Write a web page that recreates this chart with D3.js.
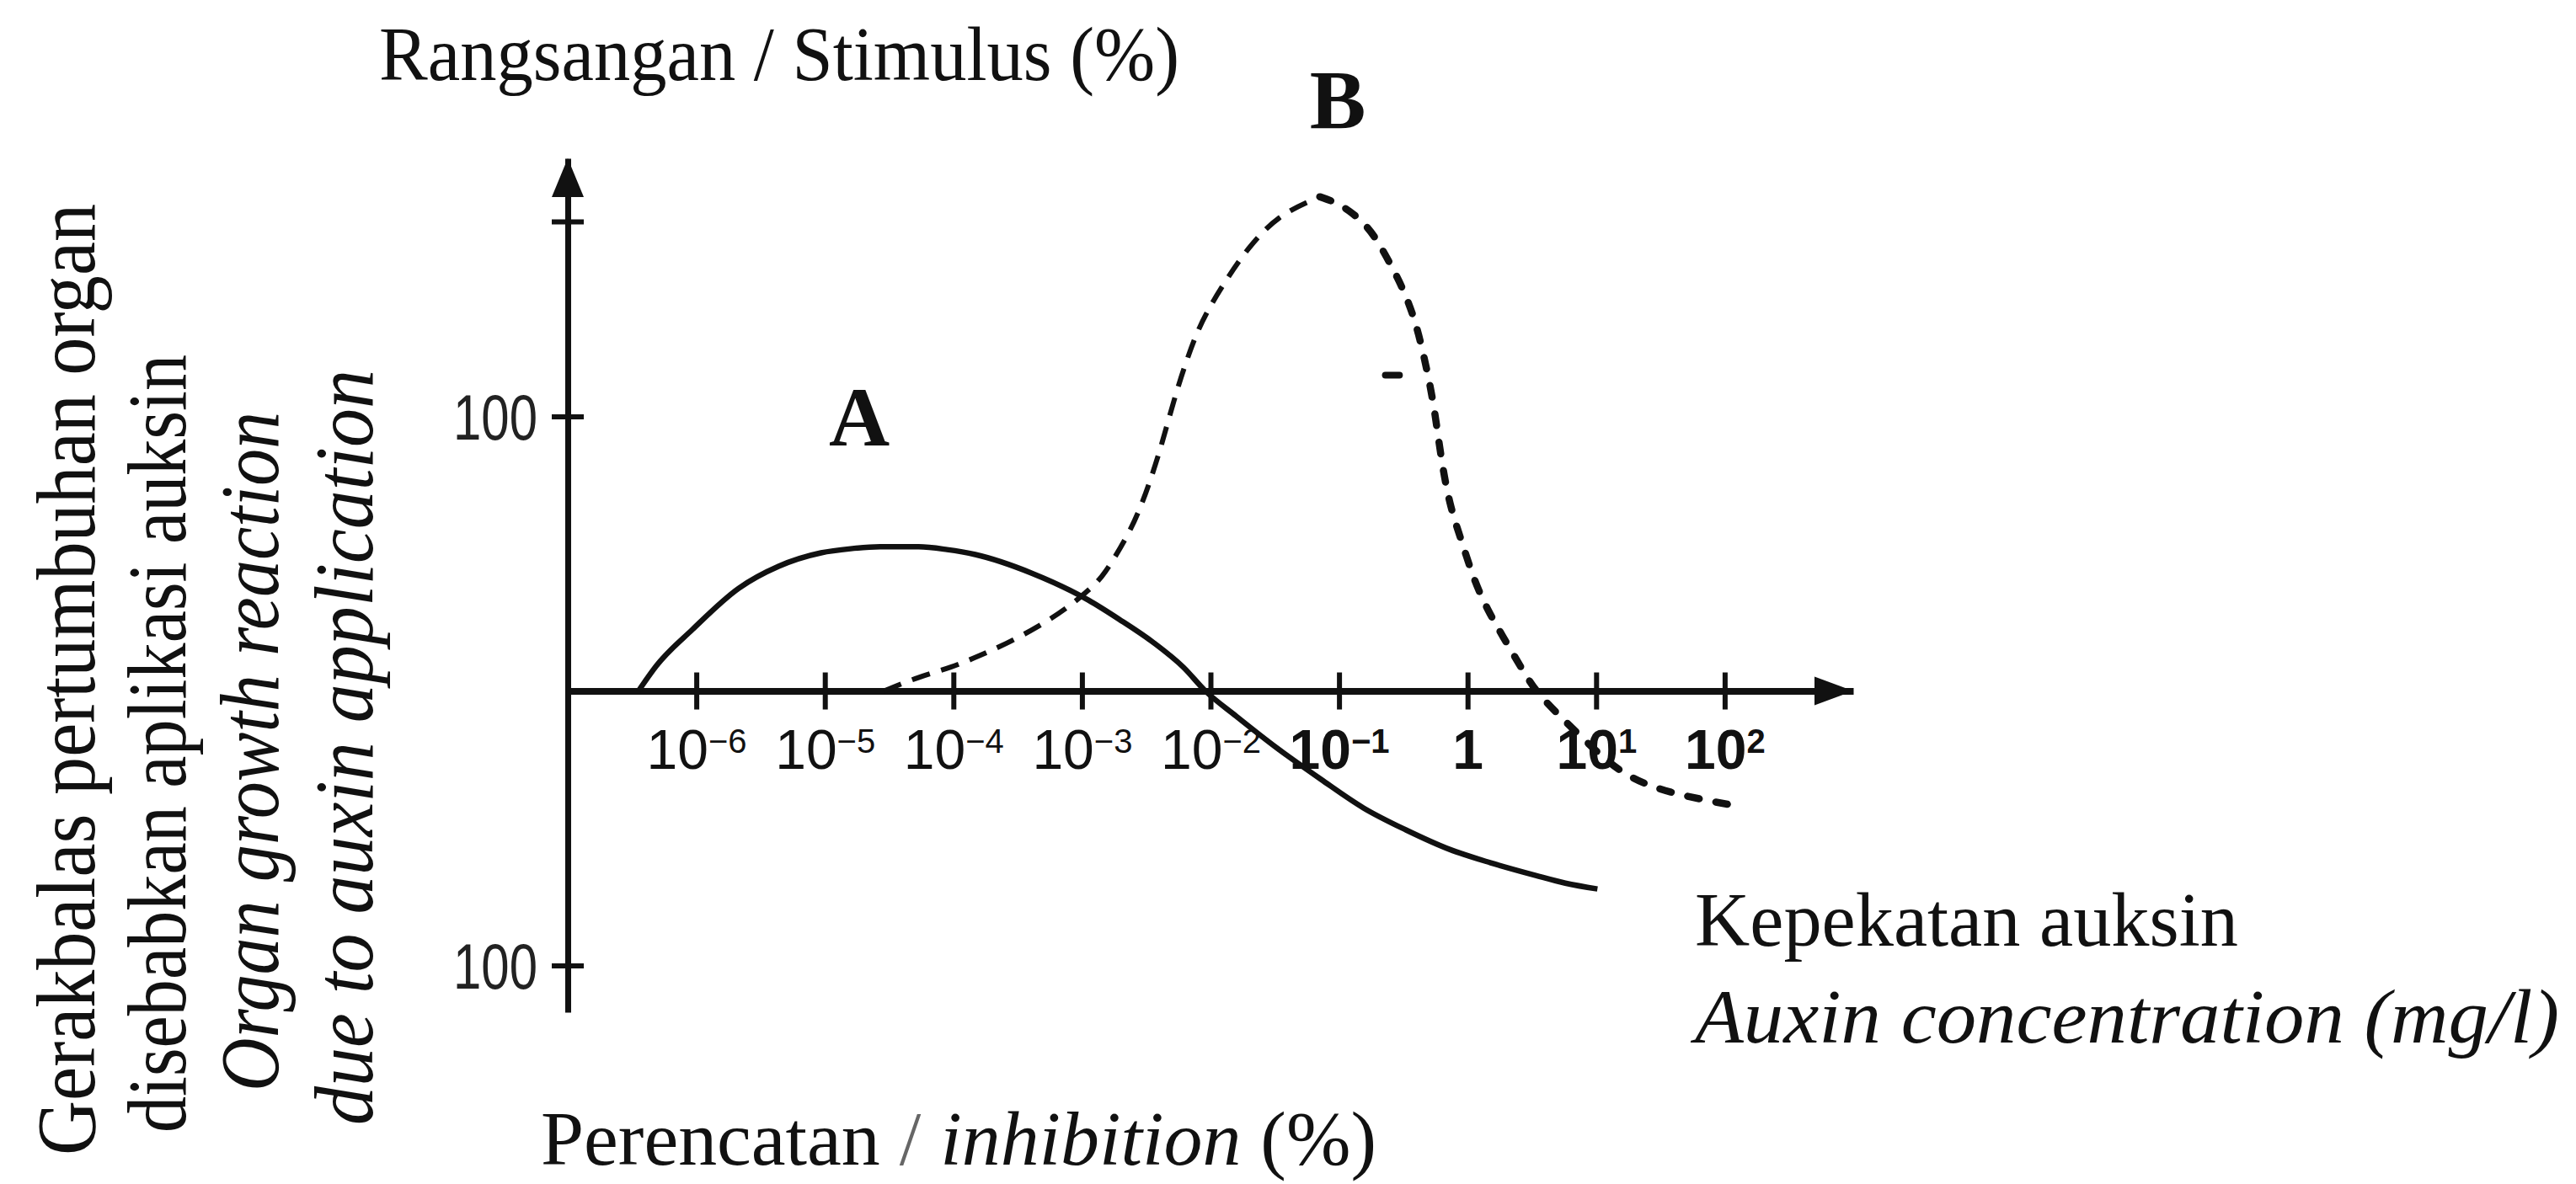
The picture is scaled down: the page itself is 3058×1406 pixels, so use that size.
<!DOCTYPE html>
<meta charset="utf-8">
<style>
body { margin: 0; background: #fff; }
svg { display: block; background: #fff; }
.lbl { font-family: "Liberation Serif", "Times New Roman", serif; fill: #111; }
.curve { fill: none; stroke: #111; }
</style>
<svg width="3058" height="1406"></svg>
<script src="https://d3js.org/d3.v7.min.js"></script>
<script>
// auxin concentration ticks (mg/l) on a log axis
var xTicks = [1e-6, 1e-5, 1e-4, 1e-3, 1e-2, 1e-1, 1, 1e1, 1e2];
var xTickBase = ["10", "10", "10", "10", "10", "10", "1", "10", "10"];
var xTickExp = ["\u22126", "\u22125", "\u22124", "\u22123", "\u22122", "\u22121", "", "1", "2"];

// response ticks (%), stimulus above zero, inhibition below
var yTicks = [171, 100, -100];
var yTickLabels = ["", "100", "100"];

// curve A (solid): log10 concentration / response %
var aLogConc = [-6.45, -6.31, -6.03, -5.67, -5.36, -5.03, -4.8, -4.57, -4.27, -4.05, -3.83, -3.39, -2.95, -2.71, -2.44, -2.21, -2.04,
                -1.8, -1.48, -1.14, -0.81, -0.48, -0.14, 0.18, 0.53, 0.76, 1.01];
var aResp = [0, 9.2, 22.4, 37.4, 45.4, 50.3, 51.8, 52.5, 52.5, 51.5, 49.7, 42.9, 33.1, 26.1, 17.5, 8.6, 0,
             -9.2, -20.9, -32.2, -42.6, -50.6, -57.7, -62.6, -67.2, -70, -72.1];

// curve B (dashed), rising limb up to the peak
var bRiseLogConc = [-4.54, -4.27, -4.01, -3.81, -3.6, -3.33, -3.1, -2.93, -2.83, -2.65, -2.56, -2.48, -2.4, -2.33, -2.26, -2.18, -2.1, -2.0,
                    -1.87, -1.72, -1.48, -1.15];
var bRiseResp = [0, 5.2, 8.6, 12.6, 16.9, 23.6, 30.7, 37.4, 42, 56, 65, 75, 86.5, 98.2, 109.8, 121.2, 131.3, 140.5,
                 150.3, 160.7, 173.3, 180];
// curve B falling limb from the peak
var bFallLogConc = [-1.15, -0.98, -0.77, -0.65, -0.53, -0.42, -0.34, -0.26, -0.21, -0.14, -0.05, 0.05, 0.16, 0.27, 0.43, 0.53,
                    0.67, 0.94, 1.2, 1.54, 2.13];
var bFallResp = [180, 177.3, 169.3, 159.8, 149.4, 137.1, 122.4, 104, 85.6, 67.5, 55.2, 40.2, 29.1, 20.2, 7.4, 0,
                 -7, -19.3, -30.4, -37.1, -42.2];

var svg = d3.select("svg");

var x = d3.scaleLog().domain([1e-7, 1e3]).range([674, 2200]);
var y = d3.scaleLinear().domain([-117, 194]).range([1202, 188]);

function pts(lc, r) {
  return lc.map(function(v, i) { return [Math.pow(10, v), r[i]]; });
}

var line = d3.line()
    .x(function(d) { return x(d[0]); })
    .y(function(d) { return y(d[1]); })
    .curve(d3.curveMonotoneX);

// smoother version for the dashed curve
var lineB = d3.line()
    .x(function(d) { return x(d[0]); })
    .y(function(d) { return y(d[1]); })
    .curve(d3.curveBasis);

// ---- axes ----
var xAxis = d3.axisBottom(x).tickValues(xTicks).tickSize(22).tickSizeOuter(0).tickFormat("");
var gx = svg.append("g")
    .attr("transform", "translate(0," + y(0) + ")")
    .call(xAxis);
gx.select(".domain").attr("stroke", "#111").attr("stroke-width", 8);
gx.selectAll(".tick line").attr("y1", -22).attr("stroke", "#111").attr("stroke-width", 6);
gx.selectAll(".tick text").remove();
gx.selectAll(".tick").each(function(d, i) {
  var t = d3.select(this).append("text")
      .attr("y", 92)
      .attr("text-anchor", "middle")
      .attr("fill", "#111")
      .attr("font-family", "'Liberation Sans', Arial, sans-serif")
      .attr("font-size", 66)
      .attr("font-weight", i >= 5 ? "bold" : "normal");
  t.append("tspan").text(xTickBase[i]);
  if (xTickExp[i]) t.append("tspan").attr("dy", -19).attr("font-size", 40).text(xTickExp[i]);
});
// arrow head on x axis
svg.append("path")
    .attr("d", "M" + (x(1e3) - 46) + "," + (y(0) - 17) + "L" + x(1e3) + "," + y(0) + "L" + (x(1e3) - 46) + "," + (y(0) + 17) + "Z")
    .attr("fill", "#111");

var yAxis = d3.axisLeft(y).tickValues(yTicks).tickSize(19).tickSizeOuter(0).tickFormat(function(d, i) { return yTickLabels[i]; });
var gy = svg.append("g")
    .attr("transform", "translate(" + x(1e-7) + ",0)")
    .call(yAxis);
gy.select(".domain").attr("stroke", "#111").attr("stroke-width", 7);
gy.selectAll(".tick line").attr("x1", 19).attr("stroke", "#111").attr("stroke-width", 6);
gy.selectAll(".tick text")
    .attr("x", -36)
    .attr("dy", "0.36em")
    .attr("fill", "#222")
    .attr("font-family", "'Liberation Sans Narrow', 'Liberation Sans', Arial, sans-serif")
    .attr("font-size", 76)
    .each(function(d, i) {
      if (yTickLabels[i]) d3.select(this).attr("textLength", 100).attr("lengthAdjust", "spacingAndGlyphs");
    });
svg.append("path")
    .attr("d", "M" + (x(1e-7) - 19) + "," + (y(194) + 46) + "L" + x(1e-7) + "," + y(194) + "L" + (x(1e-7) + 19) + "," + (y(194) + 46) + "Z")
    .attr("fill", "#111");

// ---- curves ----
svg.append("path").attr("class", "curve")
    .attr("d", line(pts(aLogConc, aResp)))
    .attr("stroke-width", 6.5);

svg.append("path").attr("class", "curve")
    .attr("d", lineB(pts(bRiseLogConc, bRiseResp)))
    .attr("stroke-width", 6)
    .attr("stroke-dasharray", "22,14");

svg.append("path").attr("class", "curve")
    .attr("d", lineB(pts(bFallLogConc, bFallResp)))
    .attr("stroke-width", 8.5)
    .attr("stroke-linecap", "round")
    .attr("stroke-dasharray", "14,20");

// small stray dash beside curve B
svg.append("line")
    .attr("x1", x(Math.pow(10, -0.64))).attr("x2", x(Math.pow(10, -0.53)))
    .attr("y1", y(115)).attr("y2", y(115))
    .attr("stroke", "#111").attr("stroke-width", 8).attr("stroke-linecap", "round");

// ---- labels ----
svg.append("text").attr("class", "lbl")
    .attr("x", 450).attr("y", 95)
    .attr("font-size", 90)
    .attr("textLength", 950).attr("lengthAdjust", "spacingAndGlyphs")
    .text("Rangsangan / Stimulus (%)");

svg.append("text").attr("class", "lbl")
    .attr("x", 1588).attr("y", 152)
    .attr("text-anchor", "middle")
    .attr("font-size", 100).attr("font-weight", "bold")
    .text("B");

svg.append("text").attr("class", "lbl")
    .attr("x", 1020).attr("y", 529)
    .attr("text-anchor", "middle")
    .attr("font-size", 100).attr("font-weight", "bold")
    .text("A");

svg.append("text").attr("class", "lbl")
    .attr("x", 2012).attr("y", 1123)
    .attr("font-size", 90)
    .attr("textLength", 645).attr("lengthAdjust", "spacingAndGlyphs")
    .text("Kepekatan auksin");

svg.append("text").attr("class", "lbl")
    .attr("x", 2012).attr("y", 1238)
    .attr("font-size", 90).attr("font-style", "italic")
    .attr("textLength", 1026).attr("lengthAdjust", "spacingAndGlyphs")
    .text("Auxin concentration (mg/l)");

var inh = svg.append("text").attr("class", "lbl")
    .attr("x", 642).attr("y", 1383)
    .attr("font-size", 90)
    .attr("textLength", 992).attr("lengthAdjust", "spacingAndGlyphs");
inh.append("tspan").text("Perencatan ");
inh.append("tspan").attr("fill", "#666").text("/ ");
inh.append("tspan").attr("font-style", "italic").text("inhibition");
inh.append("tspan").text(" (%)");

// vertical y-axis title, four lines
var vLines = [
  {t: "Gerakbalas pertumbuhan organ", x: 112, y: 1372, len: 1130, it: false},
  {t: "disebabkan aplikasi auksin", x: 220, y: 1345, len: 924, it: false},
  {t: "Organ growth reaction", x: 330, y: 1296, len: 807, it: true},
  {t: "due to auxin application", x: 442, y: 1336, len: 897, it: true}
];
svg.selectAll(".vlbl")
  .data(vLines)
  .enter().append("text")
    .attr("class", "lbl vlbl")
    .attr("transform", function(d) { return "translate(" + d.x + "," + d.y + ") rotate(-90)"; })
    .attr("font-size", 100)
    .attr("font-style", function(d) { return d.it ? "italic" : "normal"; })
    .attr("textLength", function(d) { return d.len; })
    .attr("lengthAdjust", "spacingAndGlyphs")
    .text(function(d) { return d.t; });
</script>
